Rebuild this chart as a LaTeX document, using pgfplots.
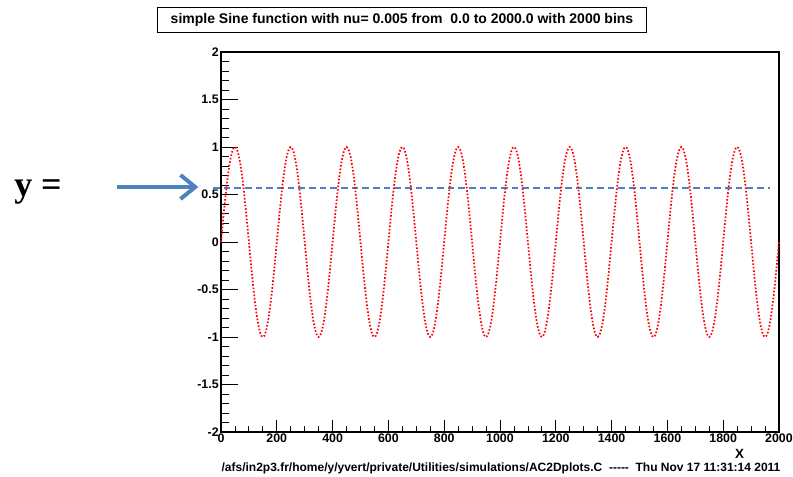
\documentclass[border=0pt]{standalone}
\usepackage{pgfplots}
\pgfplotsset{compat=1.18}
\usetikzlibrary{arrows.meta}
\usepackage{fontspec}
\setmainfont{Liberation Sans}
\newfontfamily\timesfont{Liberation Serif}
\definecolor{arrowblue}{RGB}{79,129,189}
\begin{document}
\begin{tikzpicture}
\useasboundingbox (-165.75pt,-33pt) rectangle (429pt,324pt);
\begin{axis}[
  scale only axis,
  width=418.5pt, height=285pt,
  xmin=0, xmax=2000, ymin=-2, ymax=2,
  clip=false,
  axis line style={line width=0.8pt},
  xtick={0,200,...,2000},
  ytick={-2,-1.5,...,2},
  minor x tick num=3,
  minor y tick num=4,
  xtick pos=left, ytick pos=left,
  tick align=inside,
  major tick length=12.75pt,
  minor tick length=6pt,
  x tick style={/pgfplots/major tick length=9pt, /pgfplots/minor tick length=4.5pt},
  tick style={black, line width=0.6pt},
  /pgf/number format/assume math mode=true,
  /pgf/number format/1000 sep={},
  ticklabel style={font=\fontsize{9.3}{10}\selectfont\bfseries},
  yticklabel style={inner sep=1.5pt},
  xticklabel style={inner sep=1.5pt},
  yticklabels={-2,-1.5,-1,-0.5,0,0.5,1,1.5,2},
]
\addplot[arrowblue, line width=1.5pt, dash pattern=on 5pt off 3pt] coordinates {(-29,0.57) (1968,0.57)};
\addplot[red, line width=1.3pt, dash pattern=on 1.2pt off 1.4pt] coordinates {
(0,0)(5,0.156)(10,0.309)(15,0.454)(20,0.588)(25,0.707)(30,0.809)(35,0.891)(40,0.951)(45,0.988)(50,1)(55,0.988)(60,0.951)(65,0.891)(70,0.809)(75,0.707)(80,0.588)(85,0.454)(90,0.309)(95,0.156)(100,0)(105,-0.156)(110,-0.309)(115,-0.454)(120,-0.588)(125,-0.707)(130,-0.809)(135,-0.891)(140,-0.951)(145,-0.988)(150,-1)(155,-0.988)(160,-0.951)(165,-0.891)(170,-0.809)(175,-0.707)(180,-0.588)(185,-0.454)(190,-0.309)(195,-0.156)
(200,0)(205,0.156)(210,0.309)(215,0.454)(220,0.588)(225,0.707)(230,0.809)(235,0.891)(240,0.951)(245,0.988)(250,1)(255,0.988)(260,0.951)(265,0.891)(270,0.809)(275,0.707)(280,0.588)(285,0.454)(290,0.309)(295,0.156)(300,0)(305,-0.156)(310,-0.309)(315,-0.454)(320,-0.588)(325,-0.707)(330,-0.809)(335,-0.891)(340,-0.951)(345,-0.988)(350,-1)(355,-0.988)(360,-0.951)(365,-0.891)(370,-0.809)(375,-0.707)(380,-0.588)(385,-0.454)(390,-0.309)(395,-0.156)
(400,0)(405,0.156)(410,0.309)(415,0.454)(420,0.588)(425,0.707)(430,0.809)(435,0.891)(440,0.951)(445,0.988)(450,1)(455,0.988)(460,0.951)(465,0.891)(470,0.809)(475,0.707)(480,0.588)(485,0.454)(490,0.309)(495,0.156)(500,0)(505,-0.156)(510,-0.309)(515,-0.454)(520,-0.588)(525,-0.707)(530,-0.809)(535,-0.891)(540,-0.951)(545,-0.988)(550,-1)(555,-0.988)(560,-0.951)(565,-0.891)(570,-0.809)(575,-0.707)(580,-0.588)(585,-0.454)(590,-0.309)(595,-0.156)
(600,0)(605,0.156)(610,0.309)(615,0.454)(620,0.588)(625,0.707)(630,0.809)(635,0.891)(640,0.951)(645,0.988)(650,1)(655,0.988)(660,0.951)(665,0.891)(670,0.809)(675,0.707)(680,0.588)(685,0.454)(690,0.309)(695,0.156)(700,0)(705,-0.156)(710,-0.309)(715,-0.454)(720,-0.588)(725,-0.707)(730,-0.809)(735,-0.891)(740,-0.951)(745,-0.988)(750,-1)(755,-0.988)(760,-0.951)(765,-0.891)(770,-0.809)(775,-0.707)(780,-0.588)(785,-0.454)(790,-0.309)(795,-0.156)
(800,0)(805,0.156)(810,0.309)(815,0.454)(820,0.588)(825,0.707)(830,0.809)(835,0.891)(840,0.951)(845,0.988)(850,1)(855,0.988)(860,0.951)(865,0.891)(870,0.809)(875,0.707)(880,0.588)(885,0.454)(890,0.309)(895,0.156)(900,0)(905,-0.156)(910,-0.309)(915,-0.454)(920,-0.588)(925,-0.707)(930,-0.809)(935,-0.891)(940,-0.951)(945,-0.988)(950,-1)(955,-0.988)(960,-0.951)(965,-0.891)(970,-0.809)(975,-0.707)(980,-0.588)(985,-0.454)(990,-0.309)(995,-0.156)
(1000,0)(1005,0.156)(1010,0.309)(1015,0.454)(1020,0.588)(1025,0.707)(1030,0.809)(1035,0.891)(1040,0.951)(1045,0.988)(1050,1)(1055,0.988)(1060,0.951)(1065,0.891)(1070,0.809)(1075,0.707)(1080,0.588)(1085,0.454)(1090,0.309)(1095,0.156)(1100,0)(1105,-0.156)(1110,-0.309)(1115,-0.454)(1120,-0.588)(1125,-0.707)(1130,-0.809)(1135,-0.891)(1140,-0.951)(1145,-0.988)(1150,-1)(1155,-0.988)(1160,-0.951)(1165,-0.891)(1170,-0.809)(1175,-0.707)(1180,-0.588)(1185,-0.454)(1190,-0.309)(1195,-0.156)
(1200,0)(1205,0.156)(1210,0.309)(1215,0.454)(1220,0.588)(1225,0.707)(1230,0.809)(1235,0.891)(1240,0.951)(1245,0.988)(1250,1)(1255,0.988)(1260,0.951)(1265,0.891)(1270,0.809)(1275,0.707)(1280,0.588)(1285,0.454)(1290,0.309)(1295,0.156)(1300,0)(1305,-0.156)(1310,-0.309)(1315,-0.454)(1320,-0.588)(1325,-0.707)(1330,-0.809)(1335,-0.891)(1340,-0.951)(1345,-0.988)(1350,-1)(1355,-0.988)(1360,-0.951)(1365,-0.891)(1370,-0.809)(1375,-0.707)(1380,-0.588)(1385,-0.454)(1390,-0.309)(1395,-0.156)
(1400,0)(1405,0.156)(1410,0.309)(1415,0.454)(1420,0.588)(1425,0.707)(1430,0.809)(1435,0.891)(1440,0.951)(1445,0.988)(1450,1)(1455,0.988)(1460,0.951)(1465,0.891)(1470,0.809)(1475,0.707)(1480,0.588)(1485,0.454)(1490,0.309)(1495,0.156)(1500,0)(1505,-0.156)(1510,-0.309)(1515,-0.454)(1520,-0.588)(1525,-0.707)(1530,-0.809)(1535,-0.891)(1540,-0.951)(1545,-0.988)(1550,-1)(1555,-0.988)(1560,-0.951)(1565,-0.891)(1570,-0.809)(1575,-0.707)(1580,-0.588)(1585,-0.454)(1590,-0.309)(1595,-0.156)
(1600,0)(1605,0.156)(1610,0.309)(1615,0.454)(1620,0.588)(1625,0.707)(1630,0.809)(1635,0.891)(1640,0.951)(1645,0.988)(1650,1)(1655,0.988)(1660,0.951)(1665,0.891)(1670,0.809)(1675,0.707)(1680,0.588)(1685,0.454)(1690,0.309)(1695,0.156)(1700,0)(1705,-0.156)(1710,-0.309)(1715,-0.454)(1720,-0.588)(1725,-0.707)(1730,-0.809)(1735,-0.891)(1740,-0.951)(1745,-0.988)(1750,-1)(1755,-0.988)(1760,-0.951)(1765,-0.891)(1770,-0.809)(1775,-0.707)(1780,-0.588)(1785,-0.454)(1790,-0.309)(1795,-0.156)
(1800,0)(1805,0.156)(1810,0.309)(1815,0.454)(1820,0.588)(1825,0.707)(1830,0.809)(1835,0.891)(1840,0.951)(1845,0.988)(1850,1)(1855,0.988)(1860,0.951)(1865,0.891)(1870,0.809)(1875,0.707)(1880,0.588)(1885,0.454)(1890,0.309)(1895,0.156)(1900,0)(1905,-0.156)(1910,-0.309)(1915,-0.454)(1920,-0.588)(1925,-0.707)(1930,-0.809)(1935,-0.891)(1940,-0.951)(1945,-0.988)(1950,-1)(1955,-0.988)(1960,-0.951)(1965,-0.891)(1970,-0.809)(1975,-0.707)(1980,-0.588)(1985,-0.454)(1990,-0.309)(1995,-0.156)
(2000,0)
};
\end{axis}
\node[draw, line width=0.8pt, minimum width=366.75pt, minimum height=18.75pt, inner sep=0pt, font=\fontsize{10.5}{11}\selectfont\bfseries] at (135.75pt,309pt) {simple Sine function with nu= 0.005 from\ \ 0.0 to 2000.0 with 2000 bins};
\node[anchor=base, font=\fontsize{9}{10}\selectfont\bfseries] at (210pt,-29.5pt) {/afs/in2p3.fr/home/y/yvert/private/Utilities/simulations/AC2Dplots.C\ \ {-}{-}{-}{-}{-}\ \ Thu Nov 17 11:31:14 2011};
\node[anchor=base, font=\fontsize{10}{11}\selectfont\bfseries] at (389pt,-19.5pt) {X};
\node[anchor=base west, inner sep=0pt, font=\fontsize{27}{29}\selectfont\timesfont\bfseries] at (-155.25pt,177pt) {y =};
\draw[arrowblue, line width=3pt, -{Straight Barb[length=11pt,width=18pt]}] (-78pt,183.75pt) -- (-17pt,183.75pt);
\end{tikzpicture}
\end{document}
